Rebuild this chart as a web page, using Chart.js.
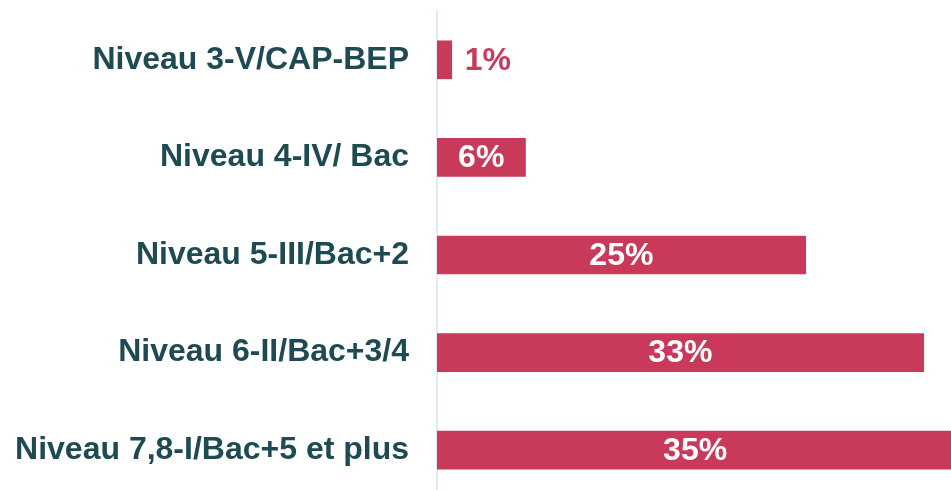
<!DOCTYPE html>
<html>
<head>
<meta charset="utf-8">
<script src="https://cdn.jsdelivr.net/npm/chart.js@4"></script>
<style>
    html, body { margin: 0; padding: 0; background: #ffffff; overflow: hidden; }
    #wrap { position: relative; width: 951px; height: 500px; }
</style>
</head>
<body>
<div id="wrap"><canvas id="levelChart"></canvas></div>
<script>
// Niveau de diplome - repartition
const categories = [
    'Niveau 3-V/CAP-BEP',
    'Niveau 4-IV/ Bac',
    'Niveau 5-III/Bac+2',
    'Niveau 6-II/Bac+3/4',
    'Niveau 7,8-I/Bac+5 et plus'
];
const shares = [1, 6, 25, 33, 35];

const barColor = '#c9395a';
const labelColor = '#1e4a53';
const fontFamily = '"Liberation Sans", Arial, sans-serif';

// draws the % values on / next to the bars
const valueLabels = {
    id: 'valueLabels',
    afterDatasetsDraw(chart) {
        const ctx = chart.ctx;
        const meta = chart.getDatasetMeta(0);
        ctx.save();
        ctx.font = 'bold 32px ' + fontFamily;
        ctx.textBaseline = 'middle';
        meta.data.forEach((bar, i) => {
            const text = shares[i] + '%';
            const w = bar.x - bar.base;
            const tw = ctx.measureText(text).width;
            if (w > tw + 20) {
                ctx.fillStyle = '#ffffff';
                ctx.textAlign = 'center';
                ctx.fillText(text, (bar.x + bar.base) / 2, bar.y + 1);
            } else {
                ctx.fillStyle = barColor;
                ctx.textAlign = 'left';
                ctx.fillText(text, bar.x + 13, bar.y + 1);
            }
        });
        ctx.restore();
    }
};

new Chart(document.getElementById('levelChart'), {
    type: 'bar',
    data: {
        labels: categories,
        datasets: [{
            data: shares,
            backgroundColor: barColor,
            borderWidth: 0,
            barThickness: 38
        }]
    },
    options: {
        indexAxis: 'y',
        responsive: true,
        maintainAspectRatio: false,
        animation: false,
        layout: {
            padding: { top: 11, bottom: 1, left: 0, right: 0 }
        },
        plugins: {
            legend: { display: false },
            tooltip: { enabled: false }
        },
        scales: {
            x: {
                min: 0,
                max: 34.85,
                display: false
            },
            y: {
                afterFit: function (scale) {
                    scale.width = 437;
                    scale.paddingTop = 0;
                    scale.paddingBottom = 0;
                },
                grid: {
                    display: false,
                    drawTicks: false
                },
                border: {
                    display: true,
                    color: '#dceef3',
                    width: 2
                },
                ticks: {
                    padding: 28,
                    color: labelColor,
                    font: {
                        family: fontFamily,
                        size: 32,
                        weight: 'bold'
                    }
                }
            }
        }
    },
    plugins: [valueLabels]
});
</script>
</body>
</html>
